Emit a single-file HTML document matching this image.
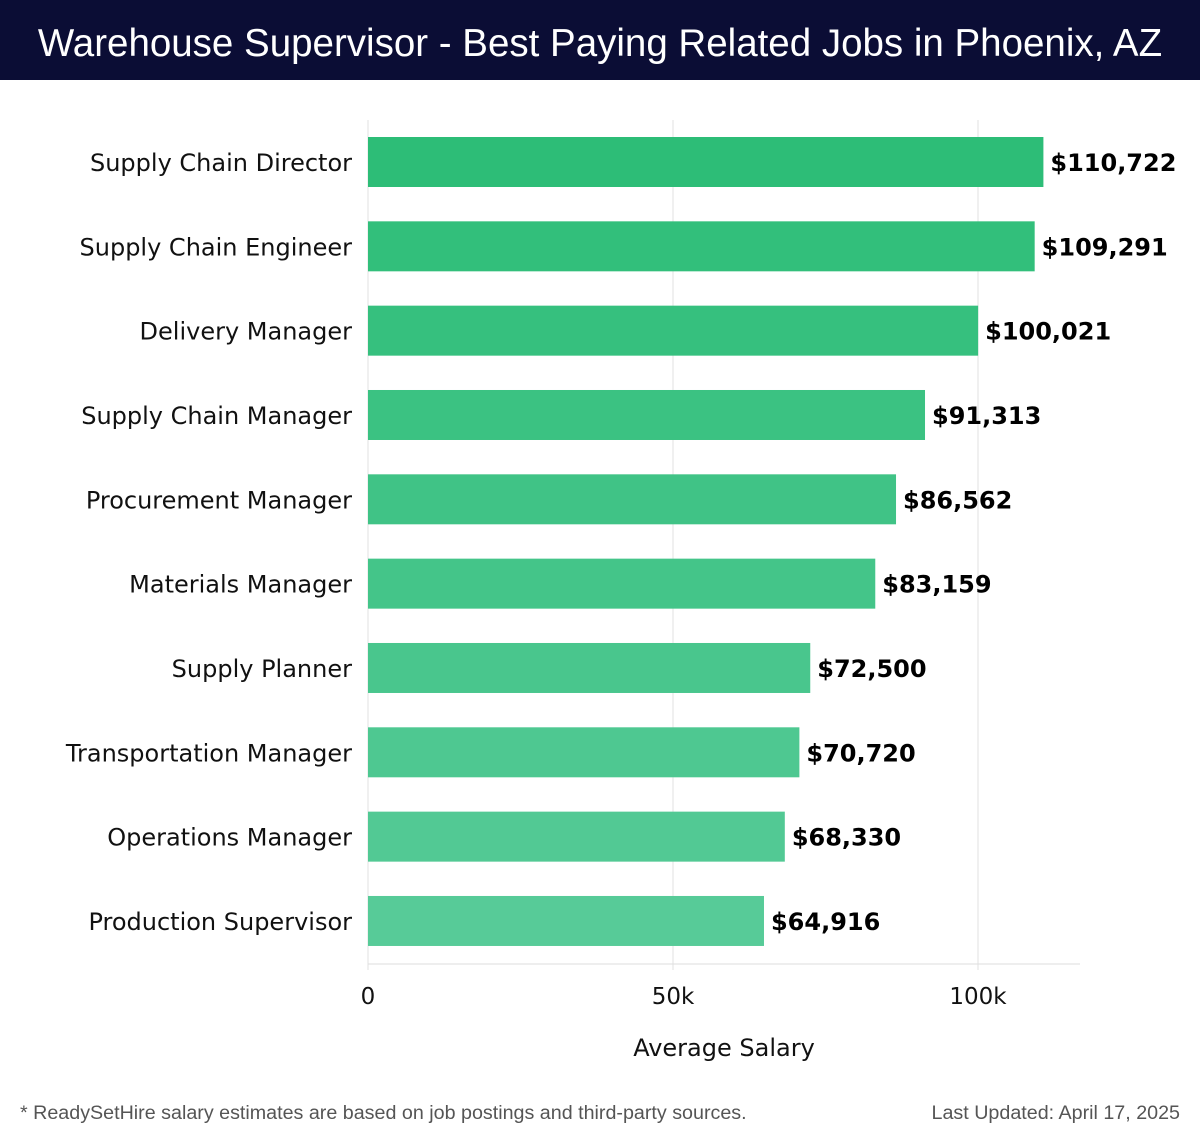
<!DOCTYPE html>
<html><head><meta charset="utf-8">
<style>
body{margin:0;width:1200px;height:1140px;background:#fff;font-family:"Liberation Sans","DejaVu Sans",sans-serif;overflow:hidden}
#hdr{position:absolute;left:0;top:0;width:1200px;height:80px;background:#0b0d35;color:#fff;font-size:38.5px;line-height:88px;text-align:center}
svg text{font-family:"DejaVu Sans",sans-serif}
svg text.foot{font-family:"Liberation Sans",sans-serif}
</style></head><body>
<div id="hdr">Warehouse Supervisor - Best Paying Related Jobs in Phoenix, AZ</div>
<svg id="chart" width="1200" height="1140" style="position:absolute;left:0;top:0"></svg>
<script>
const categories=["Supply Chain Director","Supply Chain Engineer","Delivery Manager","Supply Chain Manager","Procurement Manager","Materials Manager","Supply Planner","Transportation Manager","Operations Manager","Production Supervisor"];
const salaries=[110722,109291,100021,91313,86562,83159,72500,70720,68330,64916];
const valueLabels=["$110,722","$109,291","$100,021","$91,313","$86,562","$83,159","$72,500","$70,720","$68,330","$64,916"];
const tickValues=[0,50000,100000];
const tickLabels=["0","50k","100k"];
const NS="http://www.w3.org/2000/svg";
const svg=document.getElementById('chart');
const x0=368,pxPer=610/100000;
const xs=v=>x0+v*pxPer;
const yc=i=>162+i*84.33;
function mk(t,a,txt){const e=document.createElementNS(NS,t);for(const k in a)e.setAttribute(k,a[k]);if(txt!=null)e.textContent=txt;svg.appendChild(e);return e;}
tickValues.forEach((v,i)=>{
 const g=mk('line',{x1:xs(v),x2:xs(v),y1:120,y2:970,stroke:'#e2e2e2','stroke-width':1});
 
 
 const t=mk('text',{x:xs(v),y:1004,'text-anchor':'middle','font-size':23,fill:'#111'},tickLabels[i]);
 
 
});
const ax=mk('line',{x1:368,x2:1080,y1:964,y2:964,stroke:'#ddd','stroke-width':1});


function lerp(a,b,t){return Math.round(a+(b-a)*t);}
categories.forEach((c,i)=>{
 const t=i/(categories.length-1);
 const col=`rgb(${lerp(45,87,t)},${lerp(189,203,t)},${lerp(119,152,t)})`;
 const r=mk('rect',{x:x0,y:yc(i)-25,width:xs(salaries[i])-x0,height:50,fill:col});
 
 
 const l=mk('text',{x:352,y:yc(i)+9,'text-anchor':'end','font-size':24,fill:'#111'},c);
 
 
 const v=mk('text',{x:xs(salaries[i])+7,y:yc(i)+9,'font-size':24,'font-weight':'bold',fill:'#000'},valueLabels[i]);
 
 
});
const xt=mk('text',{x:724,y:1056,'text-anchor':'middle','font-size':24,fill:'#111'},'Average Salary');


const f1=mk('text',{x:20,y:1119,'font-size':19.7,fill:'#555','class':'foot'},'* ReadySetHire salary estimates are based on job postings and third-party sources.');


const f2=mk('text',{x:1180,y:1119,'text-anchor':'end','font-size':19.7,fill:'#555','class':'foot'},'Last Updated: April 17, 2025');


</script>
</body></html>
